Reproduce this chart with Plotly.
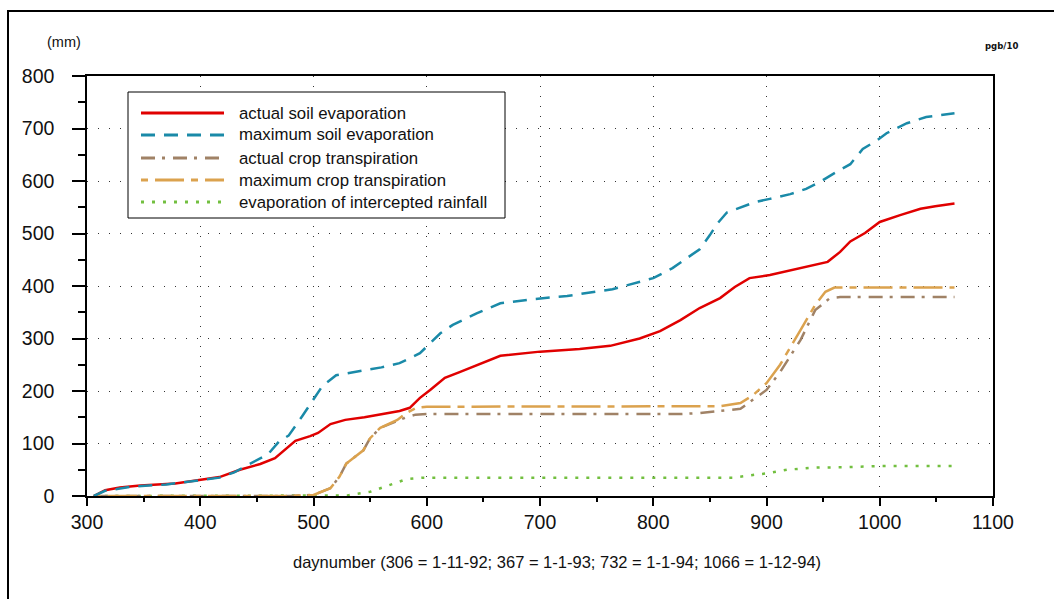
import plotly.graph_objects as go

# Cumulative water balance terms (mm) against day number
soil_evap_act_days = [306, 316, 329, 347, 378, 400, 417, 435, 453, 466, 475, 484, 497, 504,
                      515, 528, 545, 559, 576, 585, 594, 603, 616, 629, 647, 665, 700, 735,
                      762, 788, 806, 824, 841, 859, 872, 885, 903, 930, 954, 965, 974, 987,
                      1000, 1018, 1036, 1049, 1066]
soil_evap_act = [0, 11, 16, 20, 24, 30, 36, 50, 61, 72, 88, 105, 114, 120,
                 137, 145, 150, 156, 162, 168, 187, 202, 225, 236, 251, 267, 275, 280,
                 286, 300, 314, 335, 358, 377, 398, 415, 421, 434, 446, 465, 485, 501,
                 522, 535, 547, 552, 557]

soil_evap_max_days = [306, 316, 340, 370, 400, 417, 430, 445, 460, 470, 478, 490, 500, 508,
                      520, 540, 560, 576, 594, 612, 623, 644, 665, 694, 724, 764, 800, 817,
                      841, 850, 857, 865, 877, 890, 903, 921, 935, 947, 960, 974, 985, 998,
                      1006, 1015, 1024, 1041, 1066]
soil_evap_max = [0, 10, 18, 22, 30, 35, 45, 62, 80, 105, 115, 152, 185, 210,
                 230, 238, 245, 253, 272, 310, 326, 348, 367, 375, 381, 394, 415, 434,
                 470, 497, 520, 540, 550, 560, 566, 575, 585, 598, 615, 632, 661, 678,
                 691, 701, 710, 722, 729]

crop_transp_act_days = [306, 480, 500, 515, 523, 529, 544, 550, 559, 574, 582, 590, 600,
                        824, 841, 877, 891, 900, 912, 930, 943, 956, 965, 1066]
crop_transp_act = [0, 0, 2, 15, 37, 62, 87, 110, 130, 143, 150, 155, 156,
                   156, 158, 166, 189, 202, 236, 297, 354, 377, 379, 379]

crop_transp_max_days = [306, 480, 500, 515, 523, 529, 544, 550, 559, 574, 582, 591, 600,
                        824, 859, 877, 888, 900, 912, 930, 943, 952, 960, 1066]
crop_transp_max = [0, 0, 2, 15, 37, 62, 87, 110, 130, 145, 158, 168, 170,
                   170, 171, 177, 192, 215, 250, 316, 364, 389, 397, 397]

intercept_days = [306, 530, 550, 568, 582, 597, 870, 888, 900, 918, 941, 971, 1000, 1066]
intercept = [0, 1, 8, 21, 32, 35, 35, 40, 43, 50, 54, 55, 57, 57]

series_names = ["actual soil evaporation", "maximum soil evaporation",
                "actual crop transpiration", "maximum crop transpiration",
                "evaporation of intercepted rainfall"]

x_ticks = [300, 400, 500, 600, 700, 800, 900, 1000, 1100]
y_ticks = [0, 100, 200, 300, 400, 500, 600, 700, 800]

styles = [
    dict(color="#e00000", dash="solid"),
    dict(color="#1a8aa8", dash="14px,9px"),
    dict(color="#a08266", dash="14px,7px,3px,8px"),
    dict(color="#dba24e", dash="7px,7px,29px,7px"),
    dict(color="#72bf3f", dash="3px,8px"),
]

data = [
    (soil_evap_act_days, soil_evap_act),
    (soil_evap_max_days, soil_evap_max),
    (crop_transp_act_days, crop_transp_act),
    (crop_transp_max_days, crop_transp_max),
    (intercept_days, intercept),
]

W, H = 1054, 599
L, R, T, B = 87, 993, 76, 496

fig = go.Figure()
# interception and transpiration underneath, soil evaporation curves on top
for i in [4, 2, 3, 0, 1]:
    xs, ys = data[i]
    fig.add_trace(go.Scatter(x=xs, y=ys, mode="lines", name=series_names[i],
                             line=dict(color=styles[i]["color"], dash=styles[i]["dash"], width=2.5),
                             showlegend=False))


def px(xp):
    return (xp - L) / (R - L)


def py(yp):
    return (B - yp) / (B - T)


shapes = []
# outer frame
shapes.append(dict(type="rect", xref="paper", yref="paper",
                   x0=px(8), x1=px(1070), y0=py(11), y1=py(620),
                   line=dict(color="black", width=2), layer="above"))
# legend box
lx0, lx1, ly0, ly1 = 128, 505, 92, 218
shapes.append(dict(type="rect", xref="paper", yref="paper",
                   x0=px(lx0), x1=px(lx1), y0=py(ly1), y1=py(ly0),
                   line=dict(color="black", width=1), fillcolor="white", layer="above"))
annotations = []
row_y = [113, 135, 158, 180, 202]
text_font = "Liberation Sans, Arial"
for i, name in enumerate(series_names):
    shapes.append(dict(type="line", xref="paper", yref="paper",
                       x0=px(141), x1=px(224), y0=py(row_y[i]), y1=py(row_y[i]),
                       line=dict(color=styles[i]["color"], dash=styles[i]["dash"], width=2.8),
                       layer="above"))
    annotations.append(dict(text=name, xref="paper", yref="paper", x=px(237), y=py(row_y[i]),
                            xanchor="left", yanchor="middle", showarrow=False,
                            font=dict(family=text_font, size=16.8, color="#111")))

annotations.append(dict(text="(mm)", xref="paper", yref="paper", x=px(64), y=py(42),
                        xanchor="center", yanchor="middle", showarrow=False,
                        font=dict(family=text_font, size=14.5, color="#111")))
annotations.append(dict(text="<b>pgb/10</b>", xref="paper", yref="paper", x=px(1001), y=py(45),
                        xanchor="center", yanchor="middle", showarrow=False,
                        font=dict(family="DejaVu Sans Condensed, DejaVu Sans", size=9.5, color="#111")))
annotations.append(dict(text="daynumber (306 = 1-11-92; 367 = 1-1-93; 732 = 1-1-94; 1066 = 1-12-94)",
                        xref="paper", yref="paper", x=px(557), y=py(562),
                        xanchor="center", yanchor="middle", showarrow=False,
                        font=dict(family=text_font, size=16.5, color="#111")))

axis_font = dict(family=text_font, size=19.5, color="#111")
fig.update_layout(
    width=W, height=H,
    margin=dict(l=L, r=W - R, t=T, b=H - B, pad=0),
    paper_bgcolor="white", plot_bgcolor="white",
    shapes=shapes, annotations=annotations,
    xaxis=dict(range=[300, 1100], tickvals=x_ticks, ticktext=[str(v) for v in x_ticks],
               ticks="outside", ticklen=8, tickwidth=1.5, tickcolor="black",
               minor=dict(dtick=50, tick0=300, ticks="outside", ticklen=4, tickwidth=1.5,
                          tickcolor="black", showgrid=False),
               showline=True, linecolor="black", linewidth=1.5, mirror=True,
               showgrid=True, gridcolor="#333", gridwidth=1.3, griddash="1px,9px",
               zeroline=False, tickfont=axis_font),
    yaxis=dict(range=[0, 800], tickvals=y_ticks, ticktext=[str(v) for v in y_ticks],
               ticks="outside", ticklen=13, tickwidth=1.5, tickcolor="black",
               minor=dict(dtick=50, tick0=0, ticks="outside", ticklen=7, tickwidth=1.5,
                          tickcolor="black", showgrid=False),
               showline=True, linecolor="black", linewidth=1.5, mirror=True,
               showgrid=True, gridcolor="#333", gridwidth=1.3, griddash="1px,10px",
               zeroline=False, tickfont=axis_font, ticklabelstandoff=14),
)

fig.write_html("out.html")
